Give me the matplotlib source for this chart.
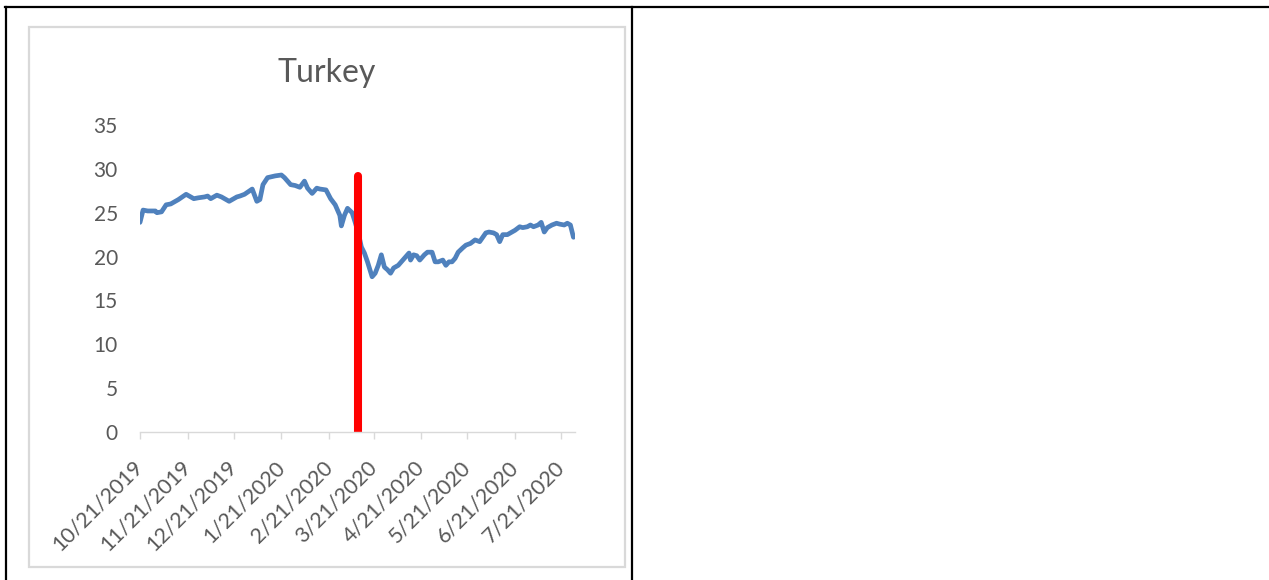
import pandas as pd
import matplotlib.pyplot as plt
from matplotlib.lines import Line2D
from matplotlib.patches import Rectangle

plt.rcParams['font.family'] = ['Lato', 'DejaVu Sans']

# values
dates = ['2019-10-21', '2019-10-23', '2019-10-26', '2019-10-31', '2019-11-01',
         '2019-11-04', '2019-11-07', '2019-11-10', '2019-11-11', '2019-11-15',
         '2019-11-20', '2019-11-25', '2019-11-28', '2019-12-02', '2019-12-04',
         '2019-12-06', '2019-12-10', '2019-12-13', '2019-12-18', '2019-12-23',
         '2019-12-25', '2019-12-28', '2020-01-02', '2020-01-05', '2020-01-07',
         '2020-01-09', '2020-01-12', '2020-01-17', '2020-01-21', '2020-01-23',
         '2020-01-27', '2020-01-30', '2020-02-02', '2020-02-05', '2020-02-07',
         '2020-02-10', '2020-02-13', '2020-02-15', '2020-02-19', '2020-02-22',
         '2020-02-25', '2020-02-28', '2020-02-29', '2020-03-02', '2020-03-04',
         '2020-03-07', '2020-03-09', '2020-03-11', '2020-03-13', '2020-03-15',
         '2020-03-17', '2020-03-20', '2020-03-22', '2020-03-24', '2020-03-26',
         '2020-03-28', '2020-03-30', '2020-04-01', '2020-04-03', '2020-04-06',
         '2020-04-09', '2020-04-11', '2020-04-13', '2020-04-14', '2020-04-16',
         '2020-04-18', '2020-04-20', '2020-04-23', '2020-04-25', '2020-04-28',
         '2020-04-30', '2020-05-02', '2020-05-05', '2020-05-07', '2020-05-09',
         '2020-05-11', '2020-05-13', '2020-05-15', '2020-05-18', '2020-05-20',
         '2020-05-23', '2020-05-26', '2020-05-29', '2020-06-02', '2020-06-04',
         '2020-06-07', '2020-06-09', '2020-06-11', '2020-06-13', '2020-06-16',
         '2020-06-18', '2020-06-21', '2020-06-24', '2020-06-26', '2020-06-29',
         '2020-07-01', '2020-07-03', '2020-07-06', '2020-07-08', '2020-07-10',
         '2020-07-12', '2020-07-15', '2020-07-18', '2020-07-20', '2020-07-23',
         '2020-07-25', '2020-07-27', '2020-07-29']
values = [23.9, 25.3, 25.2, 25.2, 25.0, 25.1, 25.9, 26.0, 26.1, 26.5,
          27.1, 26.6, 26.7, 26.8, 26.9, 26.6, 27.0, 26.8, 26.3, 26.8,
          26.9, 27.1, 27.7, 26.3, 26.5, 28.2, 29.0, 29.2, 29.3, 29.0,
          28.2, 28.1, 27.9, 28.6, 27.8, 27.2, 27.8, 27.7, 27.6, 26.6,
          25.9, 24.7, 23.5, 24.7, 25.5, 25.0, 23.9, 22.7, 21.1, 20.4,
          19.4, 17.7, 18.1, 19.0, 20.2, 18.8, 18.5, 18.1, 18.7, 19.0,
          19.6, 20.0, 20.4, 19.6, 20.2, 20.1, 19.6, 20.2, 20.5, 20.5,
          19.4, 19.4, 19.6, 19.0, 19.4, 19.4, 19.8, 20.5, 21.0, 21.3,
          21.5, 21.9, 21.7, 22.7, 22.8, 22.7, 22.5, 21.7, 22.5, 22.5,
          22.7, 23.0, 23.4, 23.3, 23.4, 23.6, 23.4, 23.6, 23.9, 22.8,
          23.3, 23.6, 23.8, 23.7, 23.6, 23.8, 23.6, 22.2]

marker_date = '2020-03-11'
marker_height = 29.2

tick_dates = ['2019-10-21', '2019-11-21', '2019-12-21', '2020-01-21', '2020-02-21',
              '2020-03-21', '2020-04-21', '2020-05-21', '2020-06-21', '2020-07-21']
tick_labels = ['10/21/2019', '11/21/2019', '12/21/2019', '1/21/2020', '2/21/2020',
               '3/21/2020', '4/21/2020', '5/21/2020', '6/21/2020', '7/21/2020']

W, H = 1269, 580
fig = plt.figure(figsize=(W / 100, H / 100), dpi=100)

# table-like frame around the chart
def px_line(x0, y0, x1, y1, color, lw):
    fig.add_artist(Line2D([x0 / W, x1 / W], [1 - y0 / H, 1 - y1 / H],
                          color=color, linewidth=lw, transform=fig.transFigure))

px_line(5, 7, W, 7, 'black', 1.6)
px_line(6, 7, 6, H, 'black', 1.6)
px_line(632, 7, 632, H, 'black', 1.6)

# chart area border
fig.add_artist(Rectangle((29 / W, 1 - 567 / H), (625 - 29) / W, (567 - 27) / H,
                         transform=fig.transFigure, fill=False,
                         edgecolor='#D9D9D9', linewidth=1.6))

ax = fig.add_axes([140 / W, 1 - 432 / H, (575 - 140) / W, (432 - 125) / H])

x = pd.to_datetime(dates)
ax.plot(x, values, color='#4F81BD', linewidth=3.4, solid_joinstyle='round',
        solid_capstyle='round')
md = pd.Timestamp(marker_date)
ax.plot([md, md], [0, marker_height], color='#FF0000', linewidth=5.8,
        solid_capstyle='round')

ax.set_xlim(pd.Timestamp('2019-10-21'), pd.Timestamp('2020-07-30'))
ax.set_ylim(0, 35)
ax.set_yticks(range(0, 36, 5))
ax.set_xticks(pd.to_datetime(tick_dates))
ax.set_xticklabels(tick_labels, rotation=45, ha='right', va='center',
                   rotation_mode='anchor')

for s in ['top', 'right', 'left']:
    ax.spines[s].set_visible(False)
ax.spines['bottom'].set_color('#D9D9D9')
ax.spines['bottom'].set_linewidth(1.0)

ax.tick_params(axis='y', length=0, pad=16, labelsize=15, labelcolor='#595959')
ax.tick_params(axis='x', length=5, width=1.0, color='#D9D9D9', pad=18,
               labelsize=15.5, labelcolor='#595959')

fig.text(327 / W, 1 - 73 / H, 'Turkey', ha='center', va='center',
         fontsize=23, color='#595959')

plt.savefig('out.png', dpi=100)
